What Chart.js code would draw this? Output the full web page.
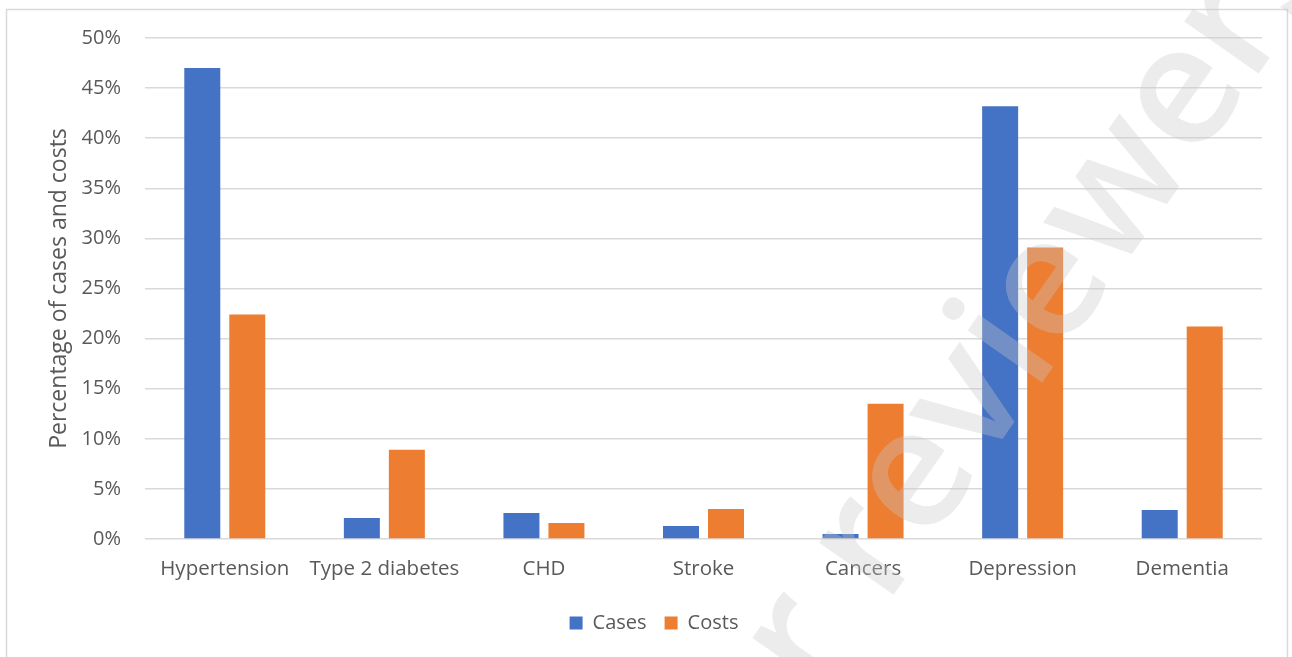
<!DOCTYPE html>
<html>
<head>
<meta charset="utf-8">
<script src="https://cdn.jsdelivr.net/npm/chart.js@4.4.1/dist/chart.umd.min.js"></script>
<style>
    html, body { margin: 0; padding: 0; background: #ffffff; }
    #wrap { width: 1292px; height: 657px; }
</style>
</head>
<body>
<div id="wrap"><canvas id="burden-chart" width="1292" height="657"></canvas></div>
<script>
const conditions = ['Hypertension', 'Type 2 diabetes', 'CHD', 'Stroke', 'Cancers', 'Depression', 'Dementia'];
const casesPct = [47.0, 2.1, 2.6, 1.3, 0.5, 43.2, 2.9];
const costsPct = [22.4, 8.9, 1.6, 3.0, 13.5, 29.1, 21.2];
const yTicks = [0, 5, 10, 15, 20, 25, 30, 35, 40, 45, 50];

const FONT = '"Open Sans", "Noto Sans", sans-serif';
const TEXT_GREY = '#595959';
const GRID_GREY = '#d9d9d9';

// outer frame around the whole chart
const framePlugin = {
    id: 'frame',
    beforeDraw: (chart) => {
        const ctx = chart.ctx;
        ctx.save();
        ctx.strokeStyle = GRID_GREY;
        ctx.lineWidth = 1.5;
        ctx.strokeRect(6.5, 9.5, 1281, 660);
        ctx.restore();
    }
};

// faint diagonal stamp drawn over the bars
const stampPlugin = {
    id: 'stamp',
    afterDraw: (chart) => {
        const ctx = chart.ctx;
        const text = 'For peer reviewers only';
        const angle = -55 * Math.PI / 180;
        ctx.save();
        ctx.font = `600 168px ${FONT}`;
        // anchor: baseline point under the first "e" of "review"
        const before = ctx.measureText('For peer r').width;
        const eHalf = ctx.measureText('e').width / 2;
        ctx.translate(955, 507);
        ctx.rotate(angle);
        ctx.fillStyle = 'rgba(200, 200, 200, 0.35)';
        ctx.textBaseline = 'alphabetic';
        ctx.textAlign = 'left';
        ctx.fillText(text, -(before + eHalf), 0);
        ctx.restore();
    }
};

new Chart(document.getElementById('burden-chart'), {
    type: 'bar',
    data: {
        labels: conditions,
        datasets: [
            { label: 'Cases', data: casesPct, backgroundColor: '#4472c4', borderWidth: 0 },
            { label: 'Costs', data: costsPct, backgroundColor: '#ed7d31', borderWidth: 0 }
        ]
    },
    options: {
        responsive: false,
        animation: false,
        devicePixelRatio: 1,
        categoryPercentage: 0.564,
        barPercentage: 0.8,
        layout: { padding: { left: 46, right: 30, top: 38, bottom: 14 } },
        scales: {
            x: {
                grid: { display: false, drawTicks: false },
                border: { display: false },
                ticks: { color: TEXT_GREY, font: { family: FONT, size: 20.5 }, padding: 18, maxRotation: 0 },
                afterFit: (scale) => { scale.height = 56; }
            },
            y: {
                min: 0,
                max: 50,
                afterBuildTicks: (scale) => { scale.ticks = yTicks.map(v => ({ value: v })); },
                grid: { color: GRID_GREY, lineWidth: 1.5, drawTicks: false },
                border: { display: false },
                ticks: {
                    color: TEXT_GREY,
                    font: { family: FONT, size: 20 },
                    padding: 24,
                    callback: (v) => v + '%'
                },
                title: {
                    display: true,
                    text: 'Percentage of cases and costs',
                    color: TEXT_GREY,
                    font: { family: FONT, size: 23 },
                    padding: { top: 0, bottom: 0 }
                },
                afterFit: (scale) => { scale.width = 99; }
            }
        },
        plugins: {
            legend: {
                position: 'bottom',
                labels: {
                    color: TEXT_GREY,
                    font: { family: FONT, size: 20 },
                    boxWidth: 13,
                    boxHeight: 13,
                    padding: 18
                }
            },
            tooltip: { enabled: false }
        }
    },
    plugins: [framePlugin, stampPlugin]
});
</script>
</body>
</html>
